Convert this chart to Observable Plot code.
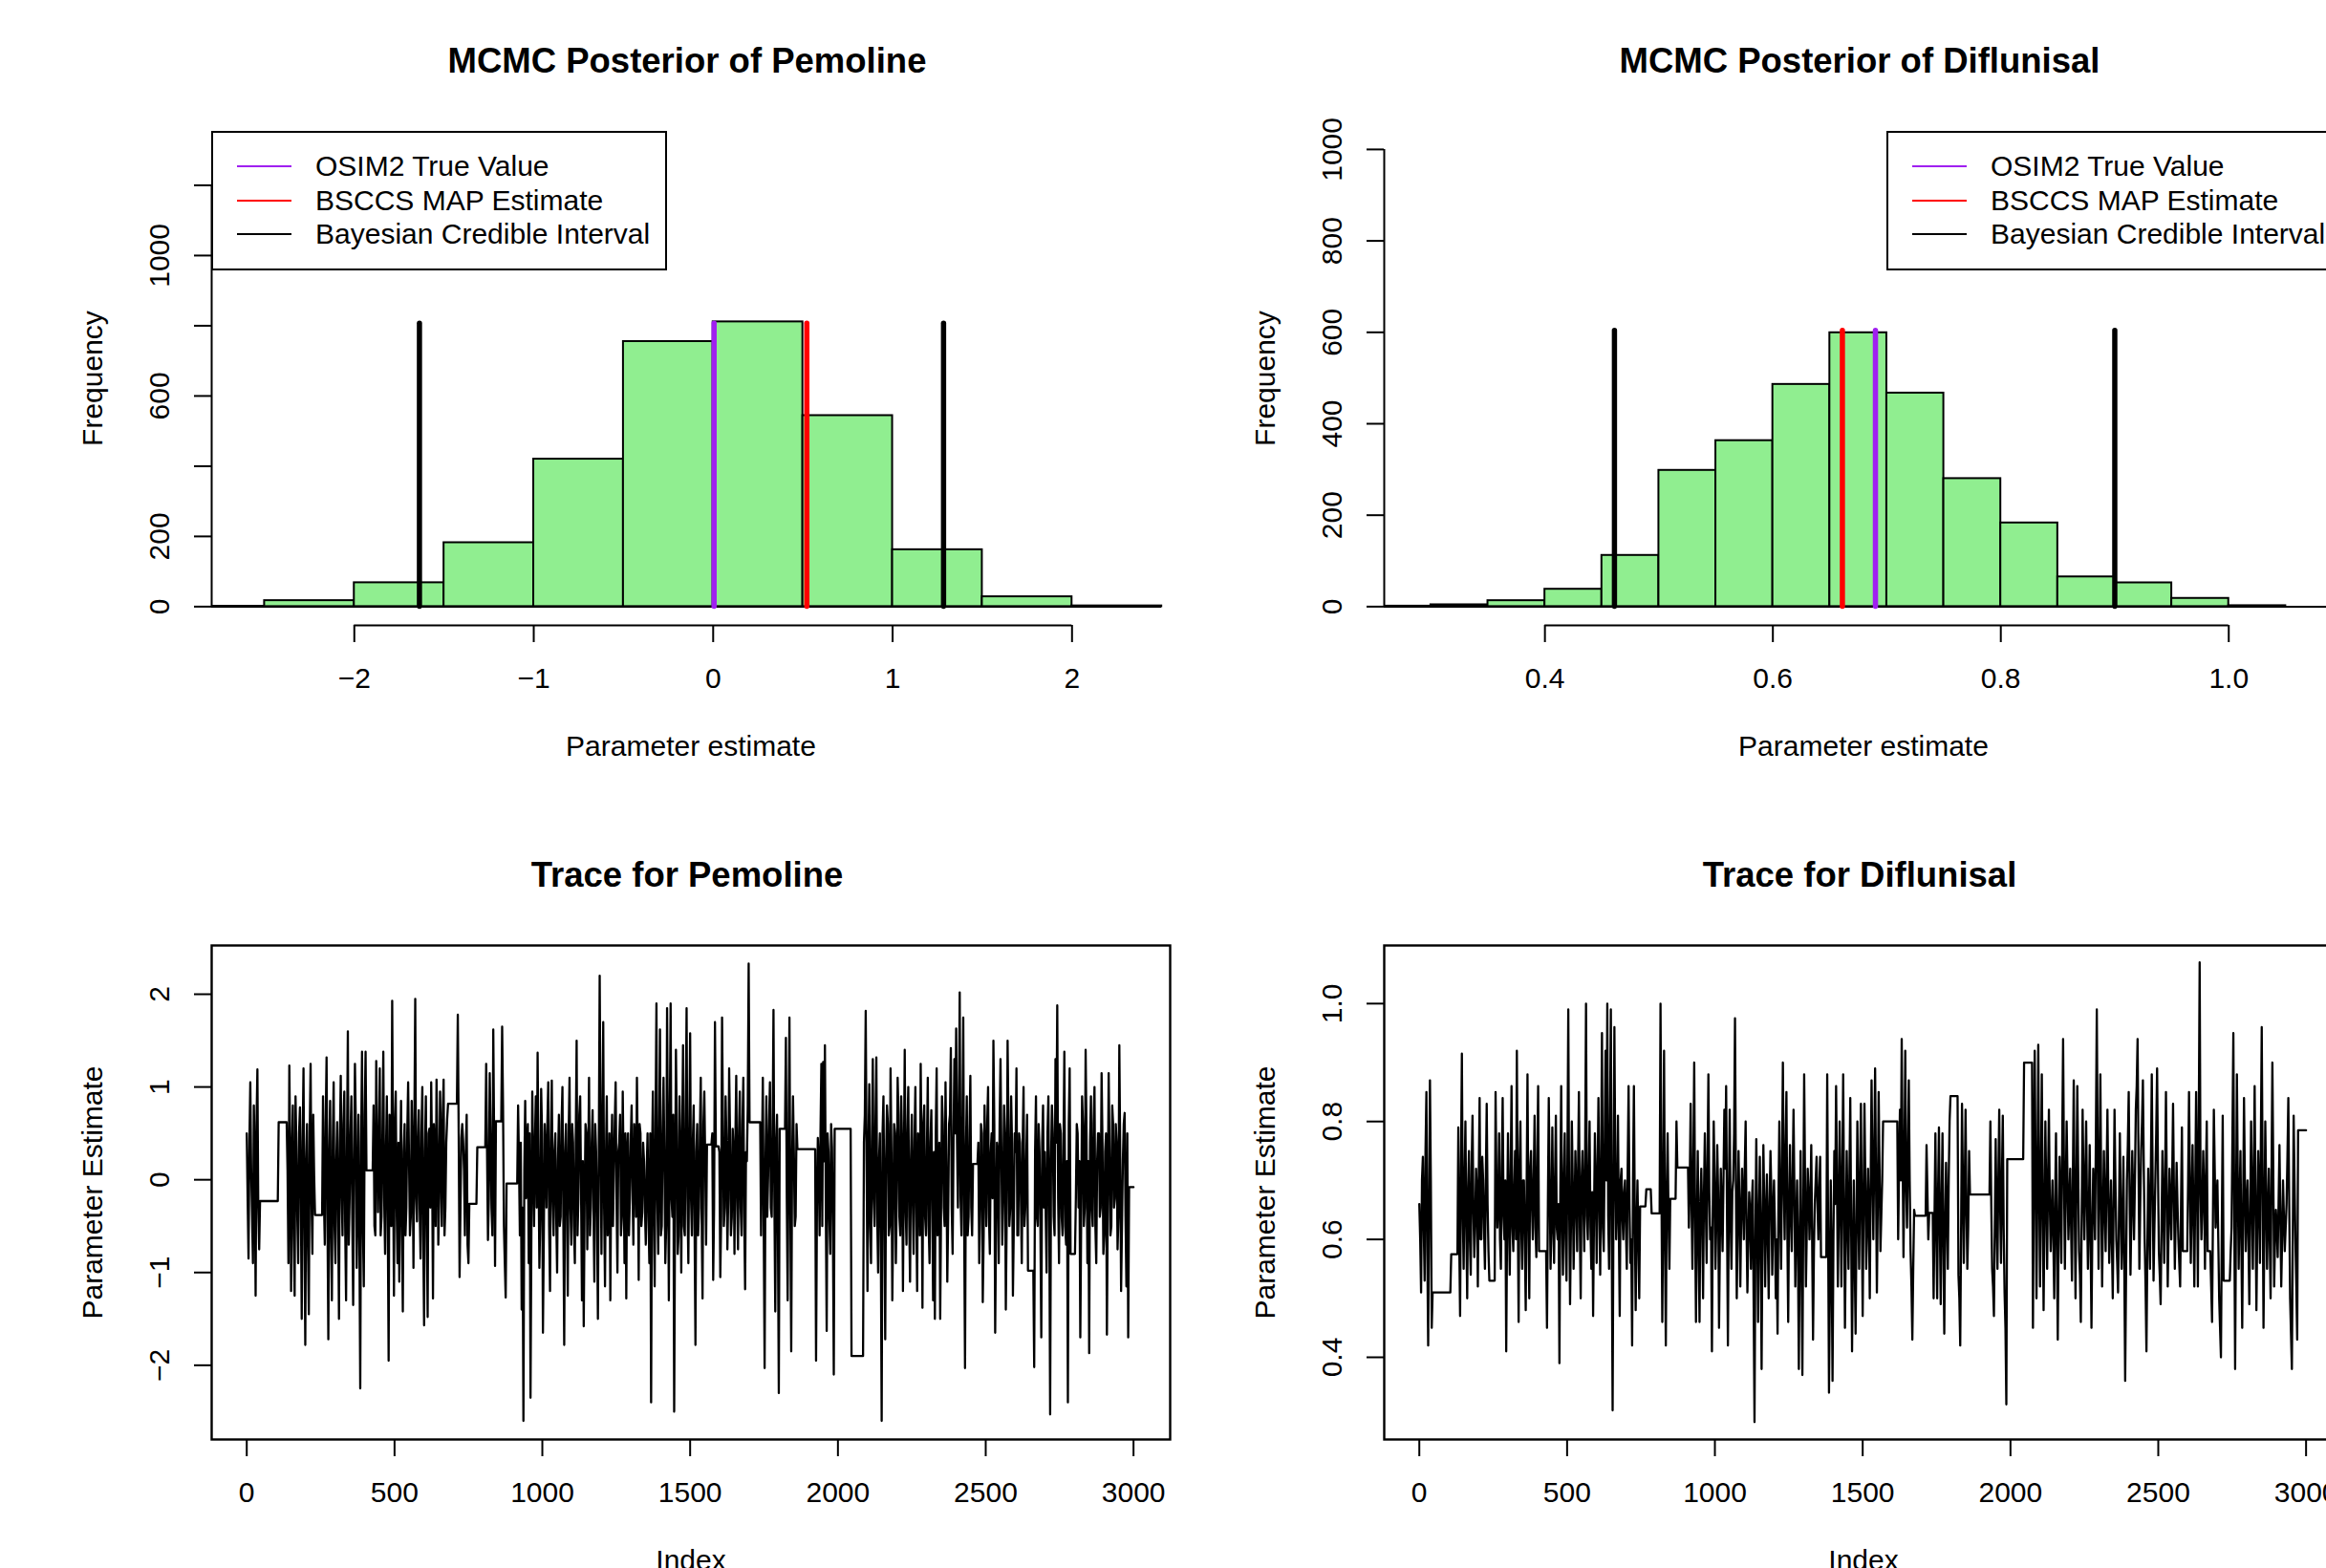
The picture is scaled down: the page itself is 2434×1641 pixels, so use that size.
<!DOCTYPE html>
<html><head><meta charset="utf-8">
<script src="https://cdn.jsdelivr.net/npm/d3@7"></script>
<script src="https://cdn.jsdelivr.net/npm/@observablehq/plot@0.6"></script>
<style>
html,body{margin:0;padding:0;background:#fff;overflow:hidden;}
#page{position:relative;width:2434px;height:1641px;overflow:hidden;background:#fff;font-family:"Liberation Sans",Arial,Helvetica,sans-serif;color:#000;}
.panel{position:absolute;width:1227px;height:852px;}
.panel svg{max-width:none !important;display:block;}
.legend{position:absolute;box-sizing:border-box;border:2px solid #000;background:#fff;width:477px;height:146px;}
.legend .sw{position:absolute;left:25px;width:57px;height:2.6px;}
.legend .lab{position:absolute;left:107px;font-size:30px;line-height:30px;white-space:nowrap;}
</style></head><body><div id="page"></div>
<script>
// ---------------- data ----------------
const legendLabels = ["OSIM2 True Value", "BSCCS MAP Estimate", "Bayesian Credible Interval"];
const legendColors = ["#A020F0", "#FF0000", "#000000"];

// Pemoline histogram
const pemBreaks = [-3, -2.5, -2, -1.5, -1, -0.5, 0, 0.5, 1, 1.5, 2, 2.5];
const pemCounts = [1, 17, 68, 182, 420, 755, 811, 544, 162, 28, 2];
const pemLineValues = [-1.637, 1.284, 0.005, 0.522];
const pemLineColors = ["#000000", "#000000", "#A020F0", "#FF0000"];
const pemLineTop = 806;

// Diflunisal histogram
const difBreaks = [0.25, 0.30, 0.35, 0.40, 0.45, 0.50, 0.55, 0.60, 0.65, 0.70, 0.75, 0.80, 0.85, 0.90, 0.95, 1.00, 1.05, 1.10];
const difCounts = [1, 4, 13, 38, 112, 298, 363, 486, 599, 467, 280, 183, 65, 52, 18, 2, 0];
const difLineValues = [0.461, 0.900, 0.661, 0.690];
const difLineColors = ["#000000", "#000000", "#FF0000", "#A020F0"];
const difLineTop = 603;

// tick labels
const pemHistXTicks = [-2, -1, 0, 1, 2];
const pemHistYTicks = [0, 200, 400, 600, 800, 1000, 1200];
const pemHistYLabels = [0, 200, 600, 1000];
const difHistXTicks = [0.4, 0.6, 0.8, 1.0];
const difHistYTicks = [0, 200, 400, 600, 800, 1000];
const difHistYLabels = [0, 200, 400, 600, 800, 1000];
const traceXTicks = [0, 500, 1000, 1500, 2000, 2500, 3000];
const pemTraceYTicks = [-2, -1, 0, 1, 2];
const difTraceYTicks = [0.4, 0.6, 0.8, 1.0];

// MCMC traces: samples read at iterations 0, 6, 12, ... (pemTrace / difTrace)
// and the in-between samples at iterations 3, 9, 15, ... (pemTraceMid / difTraceMid)
const traceStep = 6;
const pemTrace = [
 0.5,-0.85,1.05,-0.4,0.8,-1.25,1.19,-0.75,-0.23,-0.23,-0.23,-0.23,-0.23,-0.23,-0.23,-0.23,-0.23,-0.23,0.62,0.62,0.62,0.62,0.62,0.1,1.23,
 -1.2,0.8,-1.25,0.35,-0.9,0.78,-1.5,1.2,-1.78,0.6,-1.45,1.25,-0.8,0.04,-0.38,-0.38,-0.38,-0.38,0.9,-0.7,1.32,-1.72,0.85,-1.3,1.05,
 -0.9,0.62,-1.5,1.12,-0.6,0.95,-1.3,1.6,-0.2,0.9,-1.35,1.25,-0.95,0.7,-2.25,1.38,-1.15,1.38,0.1,0.1,0.1,0.1,-0.5,1.28,-0.35,
 1.2,-0.4,1.38,-0.8,0.9,-1.95,0.4,1.93,-1.25,0.95,-0.9,-1.1,0.85,-1.42,0.6,-0.3,1.05,-0.6,0.85,-0.95,1.95,-0.45,0.75,-0.85,1.0,
 -1.57,0.9,-1.48,0.55,1.05,-1.28,0.3,1.08,-0.7,0.95,-0.5,1.08,-0.3,0.65,0.82,0.82,0.82,0.82,0.82,1.78,-1.05,0.45,0.42,-0.6,0.7,
 -0.9,-0.26,-0.26,-0.26,-0.26,0.35,0.35,0.35,0.35,0.35,1.25,-0.65,1.15,-0.3,1.62,-0.93,0.63,0.63,0.63,1.65,-0.5,-1.27,-0.04,-0.04,-0.04,
 -0.04,-0.04,-0.04,0.8,-0.6,-1.4,-2.6,0.85,0.38,-0.9,-2.35,0.95,-0.5,0.9,1.37,-0.95,0.98,-1.65,0.6,-0.3,1.05,-1.2,1.07,-0.6,0.5,
 -1.0,0.7,-0.4,1.0,-1.78,0.6,-1.25,1.1,-0.7,0.4,-0.9,1.5,-0.2,0.9,-1.3,-1.58,0.6,-0.75,1.1,-0.3,0.75,-1.1,0.3,-1.5,2.2,
 -0.8,1.7,-1.15,0.9,-0.4,-1.3,0.7,0.1,1.05,-1.0,0.4,-0.6,0.95,-0.9,-1.28,0.5,-0.2,0.8,-0.7,0.35,1.1,-1.08,0.5,-0.35,0.2,
 -0.7,0.5,-0.9,-2.4,0.95,-1.15,1.9,-0.8,1.62,-0.5,1.1,-0.9,1.85,-1.3,1.9,-0.4,-2.5,1.4,-0.8,0.9,-1.0,1.45,-0.6,1.85,-0.9,
 1.58,-0.6,0.8,-1.78,0.6,-0.3,1.1,-1.28,0.95,-0.7,0.38,0.38,0.38,-1.08,1.7,0.36,0.36,-1.05,1.75,-0.5,0.9,-0.75,1.2,-0.6,0.55,
 -0.8,1.12,-0.75,0.95,-0.6,1.1,-1.18,0.2,2.33,0.62,0.62,0.62,0.62,0.62,0.62,-0.6,1.1,-2.03,0.9,0.05,1.05,-0.4,1.83,-1.42,0.7,
 -2.3,0.55,0.55,0.55,1.53,-1.3,1.75,-1.85,0.9,-0.5,0.6,0.33,0.33,0.33,0.33,0.33,0.33,0.33,0.33,0.33,0.33,-1.95,0.45,-0.6,1.25,
 1.27,1.45,-1.63,0.3,-0.8,0.35,-2.1,0.55,0.55,0.55,0.55,0.55,0.55,0.55,0.55,0.55,-1.9,-1.9,-1.9,-1.9,-1.9,-1.9,-1.9,0.4,1.82,
 -1.2,1.03,-0.9,1.3,-0.5,1.32,-1.0,0.5,-2.6,0.9,-1.72,0.8,-0.6,1.2,-1.3,0.6,-0.9,1.1,-0.4,0.9,-1.2,1.4,-0.7,1.0,-1.1,
 0.7,-0.8,1.0,-1.2,0.4,1.25,-1.38,0.8,-0.6,1.1,-0.9,0.75,-1.3,-1.5,1.2,-0.5,-1.5,0.9,-0.3,1.05,-1.1,0.6,1.42,-0.8,1.3,
 1.63,-0.3,2.02,-0.6,1.75,-2.03,0.9,-0.4,1.12,-0.6,0.17,0.17,0.17,-0.9,0.6,-1.32,0.8,-0.5,1.0,-0.8,0.5,1.5,-1.65,0.4,-0.9,
 1.3,-0.7,0.8,-1.4,1.5,-0.5,0.9,-1.25,0.5,1.2,-0.6,0.4,-0.9,1.0,-0.3,0.7,-0.98,-0.98,-0.98,-2.02,0.9,-0.5,0.3,-1.7,0.8,
 0.3,-1.0,0.9,-2.53,0.8,-0.4,1.3,1.88,-0.9,0.5,-0.6,1.38,-0.7,-2.4,1.2,-0.8,-0.8,-0.8,0.6,-0.3,-1.7,0.9,-0.5,1.4,-0.9,
 -1.87,0.9,-0.5,1.0,-0.9,0.5,-0.4,1.15,-0.8,0.3,-1.67,1.15,-0.6,0.8,-0.3,0.6,-0.75,1.45,-1.2,0.2,0.72,-1.15,-1.7,-0.08,-0.08,
 -0.08
];
const pemTraceMid = [
 -0.2,0.4,0.1,-0.9,0.2,0.6,-0.3,-0.23,-0.23,-0.23,-0.23,-0.23,-0.23,-0.23,-0.23,-0.23,-0.23,-0.23,0.62,0.62,0.62,0.62,0.62,-0.9,0.3,
 0.3,-0.6,0.9,-0.4,0.5,-0.2,0.4,-0.5,0.2,-0.7,0.5,-0.2,0.7,-0.38,-0.38,-0.38,-0.38,-0.38,-0.2,0.6,-0.4,0.3,-0.6,0.4,-0.5,
 0.2,-0.3,0.4,-0.1,0.6,-0.5,0.3,-0.7,0.5,-0.4,0.2,0.6,-0.3,-0.6,0.4,-0.5,0.7,0.1,0.1,0.1,0.1,0.8,-0.6,0.5,0.2,
 -0.6,0.5,-0.2,0.3,-0.4,0.7,-0.5,0.2,0.6,-0.3,0.4,0.1,-0.5,0.3,-0.6,0.5,0.2,-0.4,0.3,0.6,-0.2,0.4,-0.3,0.5,-0.6,
 0.3,-0.4,0.5,-0.3,0.2,0.6,-0.5,0.4,-0.2,0.3,0.7,-0.6,0.4,0.82,0.82,0.82,0.82,0.82,0.82,0.5,-0.3,0.6,0.1,0.3,-0.7,
 -0.26,-0.26,-0.26,-0.26,-0.26,0.35,0.35,0.35,0.35,0.35,0.3,-0.2,0.5,-0.6,0.4,0.63,0.63,0.63,0.63,0.8,-0.9,-0.04,-0.04,-0.04,-0.04,
 -0.04,-0.04,-0.04,0.2,0.4,-0.3,0.1,-0.2,0.6,0.5,-0.5,0.2,0.4,-0.3,0.2,-0.4,0.5,-0.6,0.3,0.6,-0.5,0.4,-0.2,0.3,-0.4,
 0.2,-0.5,0.6,-0.4,0.3,-0.2,0.5,-0.3,0.6,-0.5,0.4,-0.6,0.7,-0.1,0.2,-0.3,0.5,0.1,-0.6,0.4,-0.3,0.6,-0.4,0.3,0.5,
 0.4,-0.3,0.2,-0.6,0.5,0.1,-0.5,0.6,-0.2,0.3,0.7,-0.4,0.1,0.5,0.3,-0.6,0.4,-0.1,0.6,-0.4,0.2,0.6,-0.5,0.4,-0.3,
 0.1,-0.4,0.5,0.2,-0.3,0.6,-0.2,0.4,-0.6,0.5,0.2,-0.5,0.3,0.6,-0.2,0.7,-0.3,0.5,-0.6,0.3,0.4,-0.5,0.6,-0.2,0.4,
 -0.2,0.4,-0.5,0.3,-0.6,0.5,-0.4,0.6,0.2,0.38,0.38,0.38,0.5,-0.3,0.36,0.36,0.3,-0.4,0.6,-0.3,0.4,-0.2,0.5,-0.4,0.3,
 0.4,-0.2,0.5,-0.3,0.6,-0.4,0.3,0.8,0.62,0.62,0.62,0.62,0.62,0.62,0.62,0.3,-0.5,0.2,-0.4,0.6,-0.3,0.5,-0.2,0.4,-0.6,
 0.55,0.55,0.55,0.55,-0.2,0.4,-0.3,0.2,0.3,-0.4,0.33,0.33,0.33,0.33,0.33,0.33,0.33,0.33,0.33,0.33,0.33,-0.3,0.2,0.5,-0.5,
 0.2,-0.3,0.5,-0.4,0.6,-0.5,0.55,0.55,0.55,0.55,0.55,0.55,0.55,0.55,0.55,0.55,-1.9,-1.9,-1.9,-1.9,-1.9,-1.9,-1.9,0.7,0.2,
 0.3,-0.5,0.4,-0.2,0.6,-0.4,0.2,-0.6,0.5,-0.3,0.2,0.6,-0.5,0.3,-0.4,0.5,-0.2,0.7,-0.6,0.4,0.1,-0.3,0.5,-0.4,0.2,
 -0.2,0.4,-0.3,0.5,-0.6,0.2,0.6,-0.4,0.3,-0.5,0.4,-0.2,0.3,0.5,-0.6,0.4,-0.3,0.6,-0.5,0.2,-0.4,0.7,-0.3,0.4,0.5,
 0.4,0.6,-0.2,0.5,-0.4,0.3,-0.6,0.5,-0.3,0.17,0.17,0.17,0.4,-0.3,0.5,-0.6,0.2,0.6,-0.4,0.3,-0.2,0.6,-0.5,0.3,0.6,
 0.3,-0.2,0.5,-0.4,0.6,-0.3,0.4,-0.5,0.3,-0.6,0.5,-0.2,0.4,-0.5,0.2,-0.98,-0.98,-0.98,-0.98,0.3,-0.4,0.6,-0.5,0.4,-0.3,
 -0.4,0.5,-0.3,0.2,0.5,-0.6,0.4,-0.2,0.6,-0.4,0.3,-0.5,0.2,0.6,-0.8,-0.8,-0.8,-0.2,0.5,0.2,-0.4,0.6,-0.3,0.5,0.2,
 0.4,-0.3,0.6,-0.5,0.2,0.5,-0.3,0.4,-0.6,0.5,-0.2,0.3,-0.5,0.6,-0.2,0.4,-0.4,0.3,-0.5,0.6,-0.4,0.5,-0.08,-0.08,-0.08
];
const difTrace = [
 0.66,0.51,0.74,0.53,0.85,0.42,0.87,0.45,0.51,0.51,0.51,0.51,0.51,0.51,0.51,0.51,0.51,0.51,0.575,0.575,0.575,0.575,0.79,0.47,0.915,
 0.55,0.8,0.5,0.75,0.54,0.81,0.57,0.72,0.52,0.84,0.6,0.7,0.55,0.83,0.58,0.53,0.53,0.53,0.85,0.62,0.78,0.55,0.84,0.6,0.41,
 0.78,0.54,0.86,0.58,0.75,0.92,0.46,0.8,0.55,0.7,0.48,0.88,0.5,0.75,0.6,0.81,0.57,0.86,0.58,0.58,0.58,0.58,0.45,0.84,0.55,
 0.79,0.56,0.81,0.6,0.39,0.86,0.54,0.78,0.53,0.99,0.49,0.8,0.55,0.75,0.58,0.85,0.5,0.75,0.58,1.0,0.6,0.8,0.55,0.47,0.78,
 0.56,0.84,0.54,0.95,0.58,0.92,1.0,0.55,0.99,0.31,0.96,0.6,0.81,0.47,0.72,0.6,0.7,0.55,0.86,0.56,0.42,0.86,0.48,0.7,0.5,
 0.656,0.656,0.656,0.685,0.685,0.685,0.644,0.644,0.644,0.644,0.644,1.0,0.46,0.92,0.42,0.78,0.55,0.669,0.669,0.669,0.8,0.722,0.722,0.722,0.722,
 0.722,0.722,0.62,0.83,0.55,0.9,0.46,0.75,0.46,0.72,0.5,0.78,0.56,0.88,0.6,0.41,0.8,0.55,0.76,0.45,0.72,0.58,0.82,0.86,0.42,
 0.82,0.55,0.7,0.975,0.5,0.75,0.52,0.72,0.6,0.8,0.51,0.68,0.55,0.7,0.29,0.77,0.46,0.74,0.38,0.76,0.52,0.71,0.5,0.75,0.54,
 0.7,0.5,0.44,0.8,0.55,0.9,0.6,0.85,0.46,0.76,0.58,0.82,0.52,0.7,0.38,0.75,0.37,0.88,0.52,0.72,0.6,0.76,0.43,0.66,0.74,
 0.6,0.74,0.57,0.57,0.57,0.88,0.34,0.7,0.36,0.75,0.86,0.52,0.8,0.52,0.88,0.45,0.75,0.55,0.84,0.41,0.7,0.44,0.8,0.55,0.83,
 0.47,0.83,0.55,0.72,0.5,0.87,0.6,0.89,0.51,0.85,0.58,0.7,0.8,0.8,0.8,0.8,0.8,0.8,0.8,0.8,0.6,0.82,0.94,0.57,0.92,
 0.62,0.87,0.58,0.43,0.65,0.64,0.64,0.64,0.64,0.64,0.64,0.76,0.6,0.645,0.645,0.5,0.78,0.5,0.79,0.49,0.78,0.44,0.73,0.55,0.8,
 0.843,0.843,0.843,0.843,0.54,0.42,0.83,0.56,0.82,0.55,0.75,0.676,0.676,0.676,0.676,0.676,0.676,0.676,0.676,0.676,0.676,0.676,0.8,0.55,0.47,
 0.77,0.55,0.82,0.56,0.81,0.51,0.32,0.736,0.736,0.736,0.736,0.736,0.736,0.736,0.736,0.736,0.9,0.9,0.9,0.9,0.9,0.45,0.92,0.5,0.93,
 0.52,0.88,0.48,0.8,0.55,0.82,0.58,0.7,0.5,0.78,0.43,0.74,0.56,0.94,0.55,0.8,0.6,0.72,0.53,0.87,0.5,0.86,0.58,0.46,0.82,
 0.6,0.8,0.55,0.76,0.45,0.72,0.6,0.99,0.55,0.88,0.52,0.75,0.58,0.82,0.56,0.7,0.5,0.82,0.6,0.51,0.78,0.55,0.74,0.36,0.7,
 0.85,0.54,0.75,0.6,0.82,0.94,0.55,0.75,0.87,0.6,0.41,0.72,0.55,0.88,0.53,0.7,0.89,0.58,0.49,0.75,0.56,0.85,0.52,0.72,0.6,
 0.83,0.55,0.73,0.6,0.52,0.79,0.58,0.58,0.58,0.85,0.56,0.76,0.52,0.85,0.52,1.07,0.6,0.75,0.55,0.8,0.58,0.58,0.46,0.82,0.62,
 0.7,0.5,0.4,0.81,0.53,0.53,0.53,0.53,0.62,0.95,0.38,0.88,0.55,0.75,0.45,0.84,0.58,0.7,0.49,0.8,0.55,0.86,0.48,0.75,0.56,
 0.96,0.45,0.8,0.55,0.72,0.5,0.9,0.52,0.65,0.57,0.76,0.52,0.7,0.58,0.66,0.84,0.5,0.38,0.81,0.6,0.43,0.785,0.785,0.785,0.785,
 0.785
];
const difTraceMid = [
 0.6,0.7,0.62,0.75,0.58,0.66,0.7,0.51,0.51,0.51,0.51,0.51,0.51,0.51,0.51,0.51,0.51,0.51,0.575,0.575,0.575,0.575,0.6,0.72,0.65,
 0.7,0.62,0.68,0.6,0.72,0.65,0.63,0.68,0.7,0.6,0.74,0.62,0.7,0.66,0.53,0.53,0.53,0.53,0.7,0.66,0.6,0.72,0.64,0.7,0.62,
 0.65,0.7,0.62,0.68,0.6,0.66,0.72,0.62,0.7,0.6,0.68,0.64,0.72,0.66,0.7,0.62,0.73,0.58,0.58,0.58,0.58,0.58,0.66,0.7,0.62,
 0.64,0.7,0.62,0.66,0.68,0.64,0.7,0.6,0.72,0.66,0.62,0.7,0.64,0.68,0.72,0.62,0.7,0.66,0.74,0.64,0.7,0.62,0.68,0.64,0.7,
 0.7,0.66,0.72,0.62,0.75,0.7,0.64,0.78,0.6,0.68,0.72,0.66,0.62,0.7,0.64,0.68,0.62,0.72,0.66,0.6,0.7,0.64,0.62,0.6,0.656,
 0.656,0.656,0.656,0.685,0.685,0.685,0.644,0.644,0.644,0.644,0.644,0.7,0.66,0.6,0.68,0.64,0.669,0.669,0.669,0.669,0.722,0.722,0.722,0.722,0.722,
 0.722,0.722,0.7,0.66,0.72,0.64,0.62,0.6,0.66,0.64,0.68,0.66,0.72,0.68,0.62,0.66,0.7,0.63,0.68,0.6,0.65,0.7,0.72,0.64,0.66,
 0.64,0.68,0.78,0.7,0.62,0.66,0.64,0.66,0.72,0.62,0.6,0.64,0.66,0.5,0.6,0.64,0.62,0.6,0.62,0.66,0.64,0.6,0.66,0.68,0.64,
 0.62,0.6,0.66,0.64,0.72,0.7,0.74,0.62,0.66,0.64,0.7,0.68,0.62,0.58,0.6,0.56,0.64,0.7,0.62,0.68,0.66,0.6,0.58,0.7,0.66,
 0.68,0.57,0.57,0.57,0.57,0.62,0.52,0.56,0.6,0.66,0.7,0.64,0.68,0.7,0.66,0.6,0.64,0.7,0.62,0.58,0.56,0.62,0.66,0.7,0.64,
 0.66,0.7,0.62,0.64,0.7,0.72,0.74,0.7,0.66,0.72,0.64,0.8,0.8,0.8,0.8,0.8,0.8,0.8,0.8,0.8,0.72,0.7,0.75,0.72,0.7,
 0.74,0.7,0.52,0.55,0.64,0.64,0.64,0.64,0.64,0.64,0.64,0.68,0.645,0.645,0.645,0.64,0.62,0.68,0.62,0.66,0.6,0.62,0.64,0.7,0.843,
 0.843,0.843,0.843,0.843,0.5,0.62,0.7,0.68,0.66,0.62,0.676,0.676,0.676,0.676,0.676,0.676,0.676,0.676,0.676,0.676,0.676,0.676,0.66,0.52,0.62,
 0.64,0.7,0.66,0.7,0.62,0.45,0.736,0.736,0.736,0.736,0.736,0.736,0.736,0.736,0.736,0.736,0.9,0.9,0.9,0.9,0.9,0.7,0.72,0.68,0.7,
 0.7,0.66,0.64,0.68,0.7,0.66,0.64,0.6,0.66,0.6,0.62,0.66,0.76,0.72,0.68,0.7,0.66,0.62,0.7,0.66,0.68,0.72,0.54,0.64,0.7,
 0.7,0.66,0.64,0.6,0.62,0.66,0.78,0.74,0.7,0.68,0.64,0.66,0.7,0.68,0.62,0.6,0.66,0.7,0.56,0.64,0.66,0.62,0.56,0.54,0.76,
 0.68,0.64,0.68,0.7,0.86,0.74,0.66,0.8,0.72,0.52,0.58,0.64,0.72,0.7,0.62,0.78,0.72,0.54,0.62,0.66,0.7,0.68,0.62,0.66,0.7,
 0.68,0.64,0.66,0.56,0.66,0.58,0.58,0.58,0.7,0.7,0.66,0.64,0.68,0.7,0.8,0.68,0.66,0.68,0.7,0.58,0.58,0.52,0.64,0.72,0.66,
 0.6,0.45,0.62,0.53,0.53,0.53,0.53,0.58,0.78,0.66,0.64,0.7,0.66,0.6,0.64,0.7,0.66,0.6,0.64,0.68,0.7,0.66,0.62,0.68,0.76,
 0.7,0.62,0.68,0.64,0.6,0.7,0.72,0.6,0.62,0.66,0.64,0.6,0.64,0.62,0.74,0.66,0.44,0.6,0.7,0.52,0.785,0.785,0.785,0.785,0.785
];

// ---------------- layout ----------------
const FONT = '"Liberation Sans", Arial, Helvetica, sans-serif';
const PW = 1227, PH = 852;
const MARG = {marginLeft: 221, marginRight: 3, marginTop: 137, marginBottom: 198};
const LW = 2;

function commonText(o) {
  return Object.assign({fontSize: 30, fill: "black", lineAnchor: "middle"}, o);
}

function axesMarks({xTicks, yTicks, yLabels, fmtX, fmtY, title, xlab, ylab}) {
  return [
    Plot.axisX({ticks: xTicks, anchor: "bottom", tickSize: 18, tickFormat: () => "", strokeWidth: LW, label: null}),
    Plot.axisY({ticks: yTicks, anchor: "left", tickSize: 18, tickFormat: () => "", strokeWidth: LW, label: null}),
    Plot.text(xTicks, commonText({x: d => d, text: d => fmtX(d), frameAnchor: "bottom", dy: 56})),
    Plot.text(yLabels, commonText({y: d => d, text: d => fmtY(d), frameAnchor: "left", dx: -54, rotate: -90, textAnchor: "middle"})),
    Plot.text([title], commonText({frameAnchor: "top", dy: -73, dx: -4, fontSize: 36.5, fontWeight: "bold"})),
    Plot.text([xlab], commonText({frameAnchor: "bottom", dy: 127})),
    Plot.text([ylab], commonText({frameAnchor: "left", dx: -124, rotate: -90, textAnchor: "middle"}))
  ];
}

function histPanel(cfg) {
  const {breaks, counts, xDomain, yDomain, xTicks, yTicks, lineValues, lineColors, lineTop} = cfg;
  const bins = counts.map((c, i) => ({x1: breaks[i], x2: breaks[i + 1], count: c})).filter(d => d.count > 0);
  const lines = lineValues.map((v, i) => ({value: v, color: lineColors[i]}));
  return Plot.plot({
    width: PW, height: PH, ...MARG,
    x: {domain: xDomain, axis: null},
    y: {domain: yDomain, axis: null},
    style: {fontFamily: FONT, background: "transparent", color: "black", maxWidth: "none"},
    marks: [
      Plot.ruleY([0], {x1: breaks[0], x2: breaks[breaks.length - 1], stroke: "black", strokeWidth: LW, clip: true}),
      Plot.rect(bins, {x1: "x1", x2: "x2", y1: 0, y2: "count", fill: "#90EE90", stroke: "black", strokeWidth: LW, clip: true}),
      ...lines.map(l => Plot.ruleX([l.value], {y1: 0, y2: lineTop, stroke: l.color, strokeWidth: 5.5, strokeLinecap: "round"})),
      Plot.ruleX([xDomain[0]], {y1: yTicks[0], y2: yTicks[yTicks.length - 1], stroke: "black", strokeWidth: LW}),
      Plot.ruleY([yDomain[0]], {x1: xTicks[0], x2: xTicks[xTicks.length - 1], stroke: "black", strokeWidth: LW}),
      ...axesMarks(cfg)
    ]
  });
}

// interleave main samples (iterations 0,6,12,...) with in-between samples (3,9,15,...)
function tracePoints(main, mid) {
  const pts = [];
  main.forEach((v, i) => {
    pts.push({i: i * traceStep, v});
    if (i < mid.length) pts.push({i: i * traceStep + traceStep / 2, v: mid[i]});
  });
  return pts;
}

function tracePanel(cfg) {
  const {values, mids, xDomain, yDomain} = cfg;
  const pts = tracePoints(values, mids);
  return Plot.plot({
    width: PW, height: PH, ...MARG,
    x: {domain: xDomain, axis: null},
    y: {domain: yDomain, axis: null},
    style: {fontFamily: FONT, background: "transparent", color: "black", maxWidth: "none"},
    marks: [
      Plot.line(pts, {x: "i", y: "v", stroke: "black", strokeWidth: 2.3, strokeLinejoin: "round", clip: true}),
      Plot.frame({stroke: "black", strokeWidth: 2.4}),
      ...axesMarks(cfg)
    ]
  });
}

const fInt = d3.format("d");
const f1 = d3.format(".1f");

const page = document.getElementById("page");
function place(el, left, top) {
  const d = document.createElement("div");
  d.className = "panel";
  d.style.left = left + "px";
  d.style.top = top + "px";
  el.style.maxWidth = "none";
  d.appendChild(el);
  page.appendChild(d);
}

place(histPanel({
  breaks: pemBreaks, counts: pemCounts, xDomain: [-2.795, 2.547], yDomain: [-53.4, 1353.6],
  xTicks: pemHistXTicks, yTicks: pemHistYTicks, yLabels: pemHistYLabels, fmtX: fInt, fmtY: fInt,
  lineValues: pemLineValues, lineColors: pemLineColors, lineTop: pemLineTop,
  title: "MCMC Posterior of Pemoline", xlab: "Parameter estimate", ylab: "Frequency"
}), 0, 0);

place(histPanel({
  breaks: difBreaks, counts: difCounts, xDomain: [0.259, 1.100], yDomain: [-41, 1039.5],
  xTicks: difHistXTicks, yTicks: difHistYTicks, yLabels: difHistYLabels, fmtX: f1, fmtY: fInt,
  lineValues: difLineValues, lineColors: difLineColors, lineTop: difLineTop,
  title: "MCMC Posterior of Diflunisal", xlab: "Parameter estimate", ylab: "Frequency"
}), PW, 0);

place(tracePanel({
  values: pemTrace, mids: pemTraceMid, xDomain: [-118.7, 3124], yDomain: [-2.80, 2.5255],
  xTicks: traceXTicks, yTicks: pemTraceYTicks, yLabels: pemTraceYTicks, fmtX: fInt, fmtY: fInt,
  title: "Trace for Pemoline", xlab: "Index", ylab: "Parameter Estimate"
}), 0, PH);

place(tracePanel({
  values: difTrace, mids: difTraceMid, xDomain: [-118.7, 3124], yDomain: [0.2606, 1.0986],
  xTicks: traceXTicks, yTicks: difTraceYTicks, yLabels: difTraceYTicks, fmtX: fInt, fmtY: f1,
  title: "Trace for Diflunisal", xlab: "Index", ylab: "Parameter Estimate"
}), PW, PH);

// legends (HTML boxes)
function legend(left, top) {
  const box = document.createElement("div");
  box.className = "legend";
  box.style.left = left + "px";
  box.style.top = top + "px";
  const rowY = [35, 71, 106];
  legendLabels.forEach((lab, i) => {
    const sw = document.createElement("div");
    sw.className = "sw";
    sw.style.top = (rowY[i] - 1.3) + "px";
    sw.style.background = legendColors[i];
    const t = document.createElement("div");
    t.className = "lab";
    t.style.top = (rowY[i] - 15) + "px";
    t.textContent = lab;
    box.appendChild(sw);
    box.appendChild(t);
  });
  page.appendChild(box);
}
legend(221, 137);
legend(1974, 137);
</script></body></html>
